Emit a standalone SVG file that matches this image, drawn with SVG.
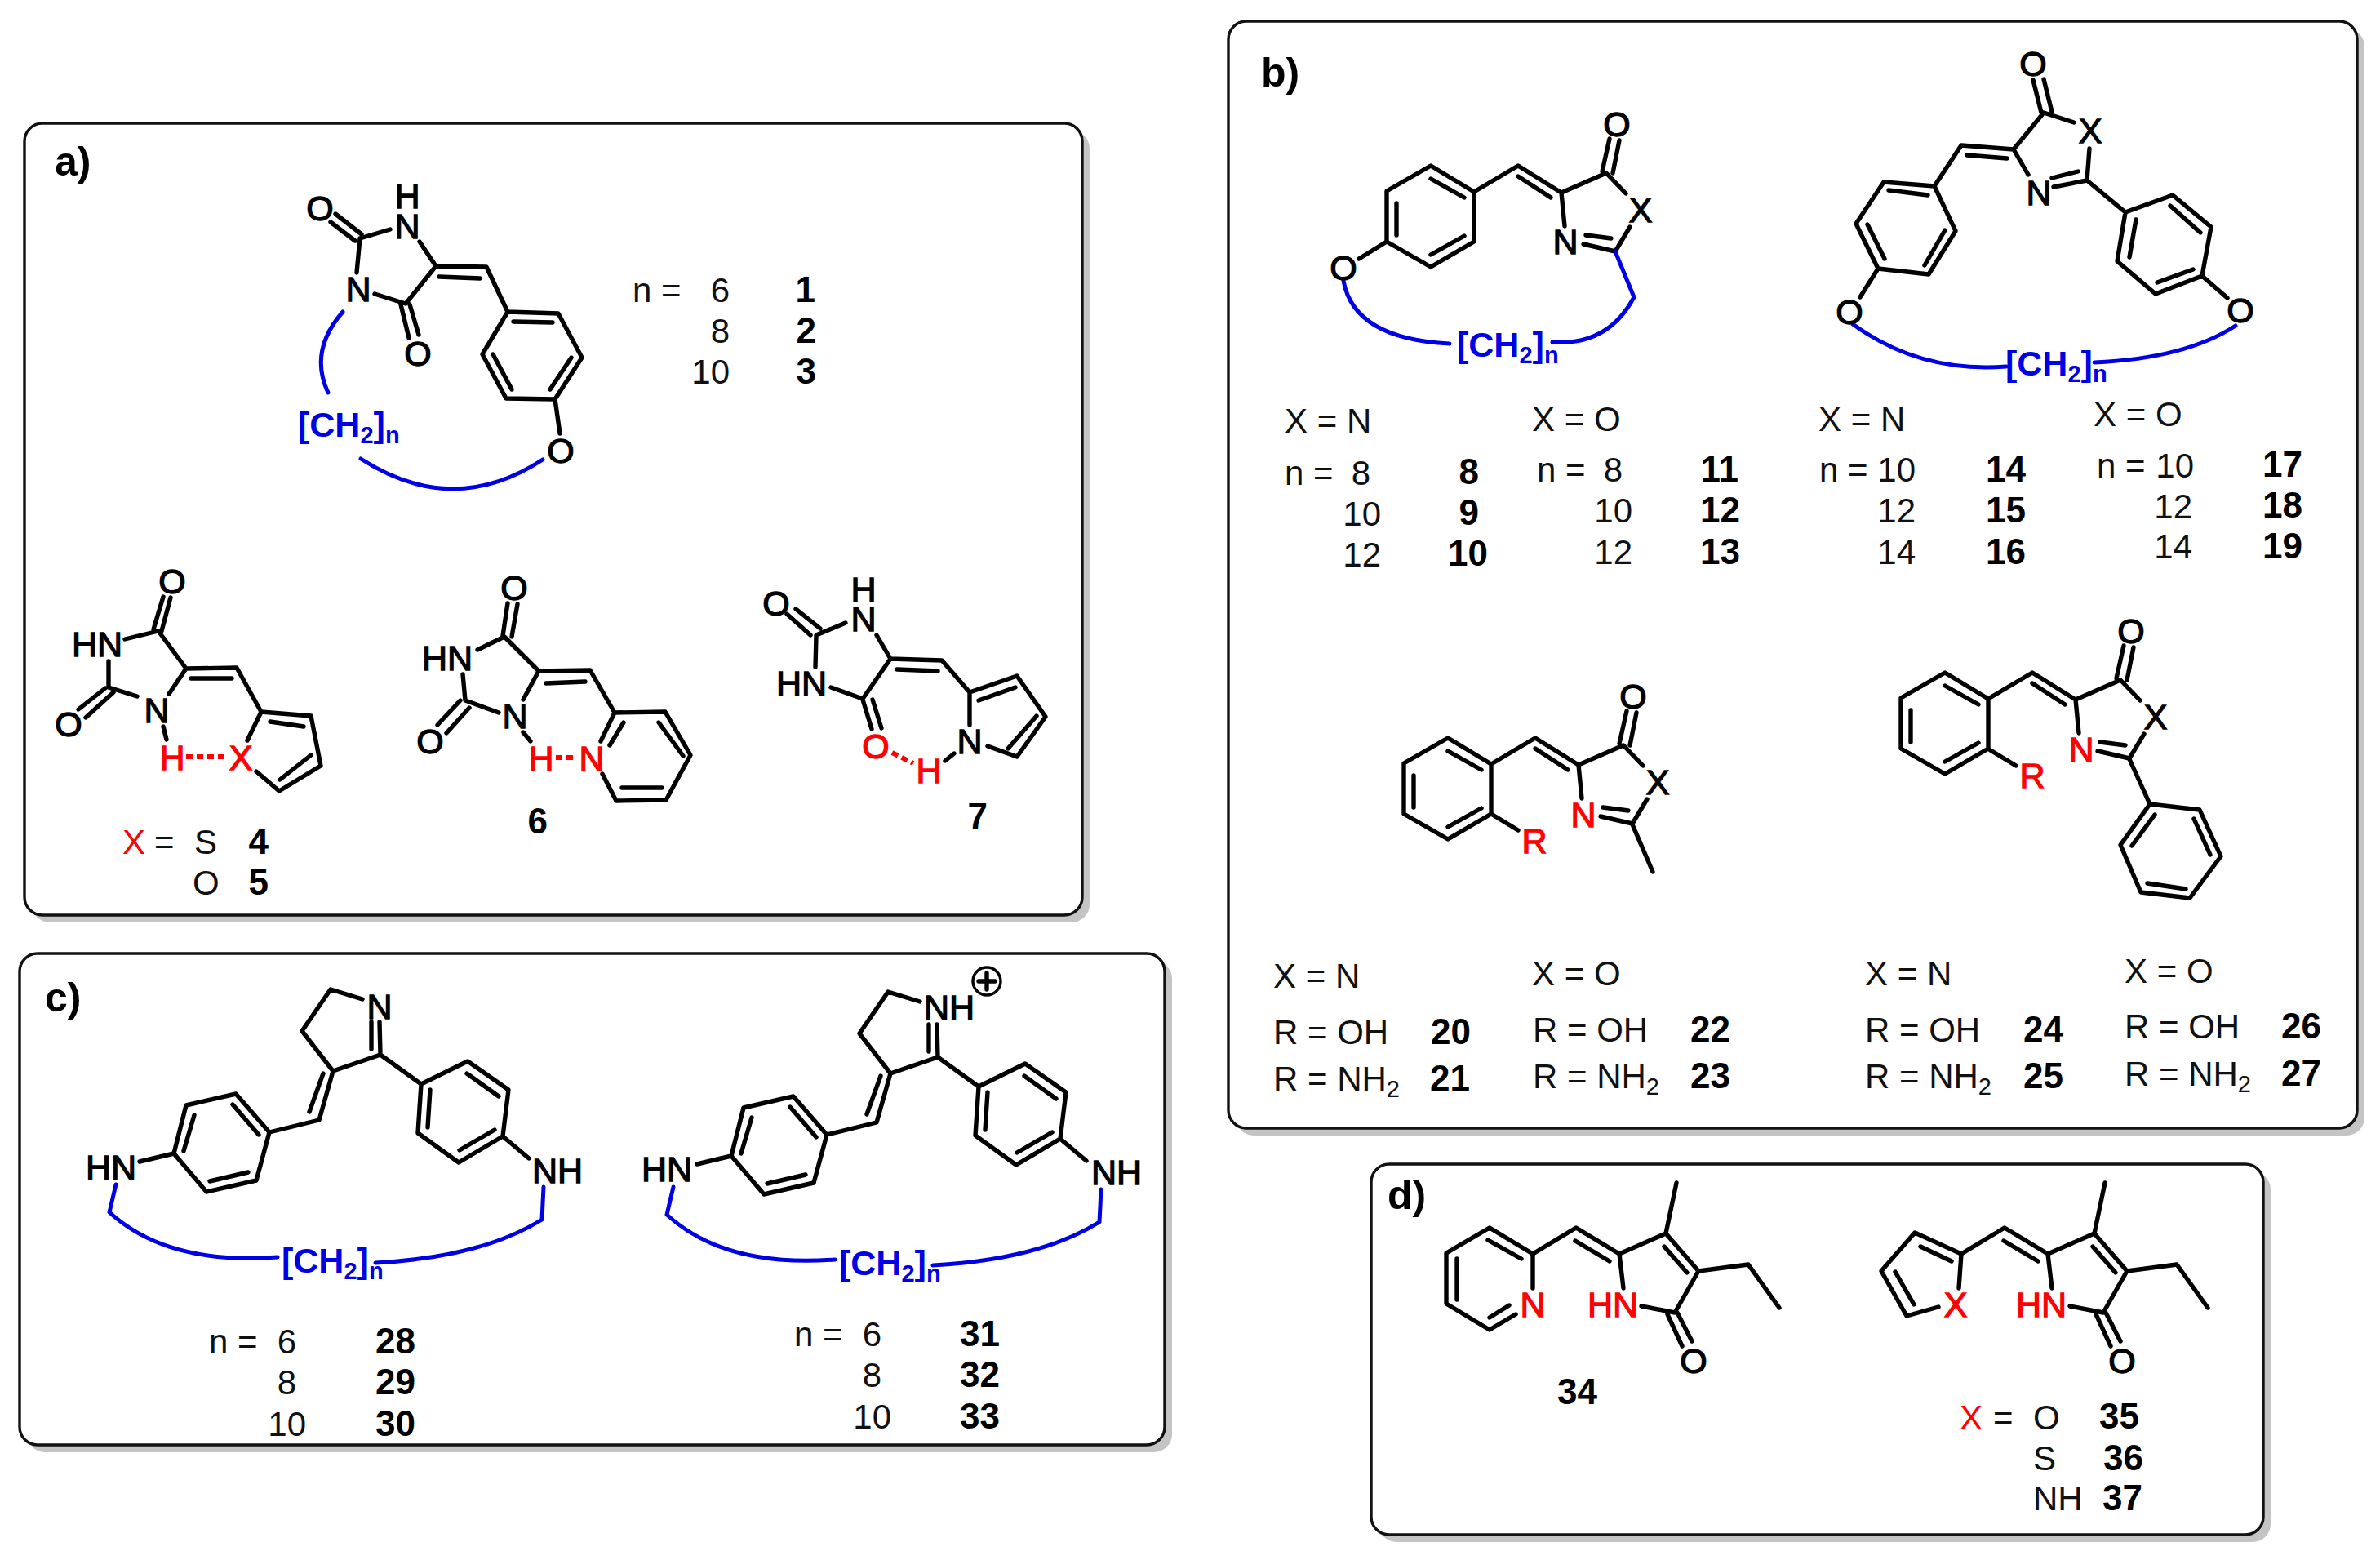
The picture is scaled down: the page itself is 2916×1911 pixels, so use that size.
<svg xmlns="http://www.w3.org/2000/svg" xmlns:xlink="http://www.w3.org/1999/xlink" width="2916" height="1911" viewBox="0 0 2916 1911">
<style>
text{font-family:"Liberation Sans",Arial,sans-serif;fill:#111}
.box{fill:#fff;stroke:#111;stroke-width:3.4}
.sh{fill:#c4c4c4}
.b{fill:none;stroke:#000;stroke-width:5.4;stroke-linecap:round;stroke-linejoin:round}
.bl{fill:none;stroke:#0000e6;stroke-width:5;stroke-linecap:round;stroke-linejoin:round}
.rd{fill:none;stroke:#f00;stroke-width:6;stroke-dasharray:8 5}
.a{font-size:43px;text-anchor:middle;fill:#000;stroke:#000;stroke-width:1.3}
.ar{fill:#f00;stroke:#f00}
.t{font-size:42px}
.c{font-size:44px;font-weight:700;text-anchor:end;fill:#000}
.e{text-anchor:end}
.l{font-size:50px;font-weight:700;fill:#000}
.ch{font-size:43px;font-weight:700;fill:#0000e6}
.s{font-size:29px}
.x{fill:#f00}
</style>
<defs>
<path id="core" class="b" d="M1963 210L1972 170M1976 212L1984 172M1992 237L1968 212L1913 236L1860 203L1806 235L1753 203L1699 234V296L1753 327L1806 296V235M1997 278L1979 308L1940 299M1974 292L1943 288M1917 277L1913 236M1900 242L1860 216M1794 242L1753 219M1711 249V288M1753 312L1794 289"/>
<path id="pyr" class="b" d="M1878 1536L1931 1504L1984 1536L2041 1511L2054 1449M2041 1511L2081 1557L2052 1608L2011 1600M1930 1520L1972 1545M2039 1527L2067 1559M1984 1536L1989 1578M2043 1610L2061 1649M2055 1608L2073 1643M2081 1557L2142 1549L2180 1602"/>
<path id="cm" class="b" d="M444 1224L405 1212L370 1263L408 1312L466 1292L516 1328L573 1300L623 1335L616 1392L562 1424L512 1388L516 1328M455 1252V1285M465 1252L466 1292M408 1312L391 1372L330 1387L289 1340L228 1354L213 1413L253 1460L314 1446L330 1387M396 1315L379 1362M317 1390L285 1353M238 1366L225 1410M257 1447L304 1436M527 1335L524 1381M572 1315L611 1343M606 1384L563 1409M171 1423L213 1413M616 1392L648 1419"/>
<path id="cb" class="bl" d="M142 1451L134 1485Q205 1550 340 1540M460 1547Q590 1540 664 1494L666 1454"/>
</defs>

<g id="panel-a">
<rect class="sh" x="39" y="160" width="1296" height="970" rx="22"/>
<rect class="box" x="30" y="151" width="1296" height="970" rx="22"/>
<text class="l" x="67" y="215">a)</text>
<g id="mol-1">
<path class="b" d="M411 262L443 287M405 272L435 295M441 292L478 281M441 292L437 334M514 296L534 326L596 327L622 382L684 384L713 438L680 489L620 488L591 434L622 382M538 339L588 341M534 326L497 372L459 360M491 373L501 414M502 373L513 410M629 394L677 395M700 438L674 477M627 477L604 434M680 489L686 531"/>
<path class="bl" d="M420 382Q378 430 402 481M442 562Q555 635 665 563"/>
<text class="a" x="392" y="270">O</text><text class="a"><tspan x="499" y="255">H</tspan><tspan x="499" y="292">N</tspan></text><text class="a" x="439" y="369">N</text><text class="a" x="512" y="448">O</text><text class="a" x="687" y="567">O</text>
<text class="ch" x="365" y="535">[CH<tspan class="s" dy="8">2</tspan><tspan dy="-8">]</tspan><tspan class="s" dy="8">n</tspan></text>
<text class="t" x="775" y="370">n =</text><text class="t e" x="894" y="370">6</text><text class="t e" x="894" y="420">8</text><text class="t e" x="894" y="470">10</text>
<text class="c" x="999" y="370">1</text><text class="c" x="1000" y="420">2</text><text class="c" x="1000" y="470">3</text>
</g>
<g id="mol-4-5">
<path class="b" d="M188 771L200 731M198 773L209 732M153 783L194 773L228 819L290 818L320 872L381 877L393 938L342 969L314 945M133 810V842L168 853M129 843L96 869M139 848L105 879M228 819L207 850M234 831H284M200 890L204 906M320 872L303 907M331 884L372 890M381 925L343 955"/>
<path class="rd" d="M228 927H276"/>
<text class="a" x="211" y="727">O</text><text class="a" x="119" y="804">HN</text><text class="a" x="84" y="902">O</text><text class="a" x="192" y="885">N</text><text class="a ar" x="211" y="943">H</text><text class="a ar" x="295" y="943">X</text>
<text class="t x" x="150" y="1046">X</text><text class="t" x="189" y="1046">=</text><text class="t" x="238" y="1046">S</text><text class="c" x="329" y="1046">4</text>
<text class="t" x="236" y="1096">O</text><text class="c" x="329" y="1096">5</text>
</g>
<g id="mol-6">
<path class="b" d="M616 779L622 739M627 780L634 740M585 796L618 780L660 822L723 821L753 873L815 872L846 925L816 980L755 981L738 948M567 826L570 858L611 873M564 858L536 888M575 867L547 898M669 837L717 835M660 822L641 857M807 885L837 926M811 965H762M736 908L753 873M747 913L764 885M641 897L650 908"/>
<path class="rd" d="M681 928H706"/>
<text class="a" x="630" y="735">O</text><text class="a" x="548" y="821">HN</text><text class="a" x="527" y="923">O</text><text class="a" x="631" y="892">N</text><text class="a ar" x="663" y="944">H</text><text class="a ar" x="725" y="944">N</text>
<text class="c" x="671" y="1021">6</text>
</g>
<g id="mol-7">
<path class="b" d="M975 746L1005 770M964 752L993 778M1036 763L1000 778L999 817M1074 778L1091 807L1154 809L1188 848L1246 828L1281 878L1246 927L1210 914M1018 842L1057 856L1091 807M1099 820L1149 822M1069 857L1080 892M1057 857L1068 893M1199 858L1244 842M1270 877L1235 917M1188 848V888M1158 932L1169 923"/>
<path class="rd" d="M1093 922L1119 935"/>
<text class="a" x="951" y="754">O</text><text class="a"><tspan x="1058" y="737">H</tspan><tspan x="1058" y="773">N</tspan></text><text class="a" x="982" y="852">HN</text><text class="a ar" x="1073" y="929">O</text><text class="a ar" x="1138" y="959">H</text><text class="a" x="1188" y="923">N</text>
<text class="c" x="1210" y="1015">7</text>
</g>
</g>

<g id="panel-b">
<rect class="sh" x="1514" y="35" width="1383" height="1356" rx="22"/>
<rect class="box" x="1505" y="26" width="1383" height="1356" rx="22"/>
<text class="l" x="1545" y="106">b)</text>
<g id="mol-8-13">
<use href="#core" xlink:href="#core"/>
<path class="b" d="M1699 296L1665 317"/>
<path class="bl" d="M1646 344Q1659 415 1776 421M1902 419Q1970 424 2002 364L1979 308"/>
<text class="a" x="1981" y="167">O</text><text class="a" x="2010" y="272">X</text><text class="a" x="1918" y="311">N</text><text class="a" x="1646" y="343">O</text>
<text class="ch" x="1785" y="437">[CH<tspan class="s" dy="8">2</tspan><tspan dy="-8">]</tspan><tspan class="s" dy="8">n</tspan></text>
<text class="t" x="1574" y="530">X = N</text><text class="t" x="1574" y="594">n =</text><text class="t e" x="1679" y="594">8</text><text class="t e" x="1692" y="644">10</text><text class="t e" x="1692" y="694">12</text>
<text class="c" x="1812" y="593">8</text><text class="c" x="1812" y="643">9</text><text class="c" x="1823" y="693">10</text>
<text class="t" x="1877" y="528">X = O</text><text class="t" x="1883" y="590">n =</text><text class="t e" x="1988" y="590">8</text><text class="t e" x="2000" y="640">10</text><text class="t e" x="2000" y="691">12</text>
<text class="c" x="2130" y="590">11</text><text class="c" x="2132" y="640">12</text><text class="c" x="2132" y="691">13</text>
</g>
<g id="mol-14-19">
<path class="b" d="M2491 98L2501 138M2504 97L2514 137M2541 150L2504 138L2467 183L2403 178L2370 228L2308 223L2274 274L2301 329L2363 336L2396 283L2370 228M2560 182L2557 221L2516 229M2546 210L2514 218M2485 214L2467 183M2459 194L2410 190M2362 239L2314 233M2288 275L2309 317M2358 325L2383 282M2301 329L2279 364M2557 221L2604 260L2662 239L2709 278L2698 338L2641 360L2594 320L2604 260M2617 269L2609 315M2659 252L2696 285M2687 330L2643 346M2698 338L2729 365"/>
<path class="bl" d="M2270 397Q2352 457 2458 449M2566 444Q2678 439 2739 399"/>
<text class="a" x="2491" y="93">O</text><text class="a" x="2561" y="175">X</text><text class="a" x="2498" y="251">N</text><text class="a" x="2266" y="397">O</text><text class="a" x="2745" y="395">O</text>
<text class="ch" x="2457" y="460">[CH<tspan class="s" dy="8">2</tspan><tspan dy="-8">]</tspan><tspan class="s" dy="8">n</tspan></text>
<text class="t" x="2228" y="528">X = N</text><text class="t" x="2229" y="590">n =</text><text class="t e" x="2347" y="590">10</text><text class="t e" x="2347" y="640">12</text><text class="t e" x="2347" y="691">14</text>
<text class="c" x="2482" y="590">14</text><text class="c" x="2482" y="640">15</text><text class="c" x="2482" y="691">16</text>
<text class="t" x="2565" y="522">X = O</text><text class="t" x="2569" y="585">n =</text><text class="t e" x="2688" y="585">10</text><text class="t e" x="2686" y="635">12</text><text class="t e" x="2686" y="684">14</text>
<text class="c" x="2821" y="584">17</text><text class="c" x="2821" y="634">18</text><text class="c" x="2821" y="684">19</text>
</g>
<g id="mol-20-23">
<use href="#core" xlink:href="#core" transform="translate(21 701)"/>
<path class="b" d="M1827 997L1860 1017M2000 1010L2025 1068"/>
<text class="a" x="2001" y="868">O</text><text class="a" x="2031" y="973">X</text><text class="a ar" x="1940" y="1013">N</text><text class="a ar" x="1880" y="1045">R</text>
<text class="t" x="1560" y="1210">X = N</text><text class="t" x="1560" y="1279">R = OH</text><text class="t" x="1560" y="1336">R = NH<tspan class="s" dy="8">2</tspan></text>
<text class="c" x="1802" y="1279">20</text><text class="c" x="1801" y="1336">21</text>
<text class="t" x="1877" y="1207">X = O</text><text class="t" x="1878" y="1276">R = OH</text><text class="t" x="1878" y="1333">R = NH<tspan class="s" dy="8">2</tspan></text>
<text class="c" x="2120" y="1276">22</text><text class="c" x="2120" y="1333">23</text>
</g>
<g id="mol-24-27">
<use href="#core" xlink:href="#core" transform="translate(630 621)"/>
<path class="b" d="M2437 918L2470 938M2609 930L2634 985L2695 992L2721 1049L2683 1100L2623 1093L2598 1035L2634 985M2640 998L2612 1036M2688 1003L2708 1047M2678 1089L2631 1082"/>
<text class="a" x="2611" y="788">O</text><text class="a" x="2641" y="893">X</text><text class="a ar" x="2550" y="933">N</text><text class="a ar" x="2490" y="965">R</text>
<text class="t" x="2285" y="1207">X = N</text><text class="t" x="2285" y="1276">R = OH</text><text class="t" x="2285" y="1333">R = NH<tspan class="s" dy="8">2</tspan></text>
<text class="c" x="2528" y="1276">24</text><text class="c" x="2528" y="1333">25</text>
<text class="t" x="2603" y="1204">X = O</text><text class="t" x="2603" y="1272">R = OH</text><text class="t" x="2603" y="1330">R = NH<tspan class="s" dy="8">2</tspan></text>
<text class="c" x="2844" y="1272">26</text><text class="c" x="2844" y="1330">27</text>
</g>
</g>

<g id="panel-c">
<rect class="sh" x="33" y="1177" width="1403" height="602" rx="22"/>
<rect class="box" x="24" y="1168" width="1403" height="602" rx="22"/>
<text class="l" x="55" y="1239">c)</text>
<g id="mol-28-30">
<use href="#cm" xlink:href="#cm"/><use href="#cb" xlink:href="#cb"/>
<text class="a" x="465" y="1248">N</text><text class="a" x="136" y="1445">HN</text><text class="a" x="683" y="1449">NH</text>
<text class="ch" x="345" y="1559">[CH<tspan class="s" dy="8">2</tspan><tspan dy="-8">]</tspan><tspan class="s" dy="8">n</tspan></text>
<text class="t" x="256" y="1658">n =</text><text class="t e" x="363" y="1658">6</text><text class="t e" x="363" y="1708">8</text><text class="t e" x="375" y="1759">10</text>
<text class="c" x="509" y="1658">28</text><text class="c" x="509" y="1708">29</text><text class="c" x="509" y="1759">30</text>
</g>
<g id="mol-31-33">
<use href="#cm" xlink:href="#cm" transform="translate(683 3)"/><use href="#cb" xlink:href="#cb" transform="translate(683 3)"/>
<text class="a" x="1163" y="1249">NH</text><text class="a" x="817" y="1447">HN</text><text class="a" x="1368" y="1451">NH</text>
<circle cx="1209" cy="1202" r="17" fill="none" stroke="#000" stroke-width="3.4"/><path class="b" d="M1199 1202H1219M1209 1192V1212"/>
<text class="ch" x="1028" y="1562">[CH<tspan class="s" dy="8">2</tspan><tspan dy="-8">]</tspan><tspan class="s" dy="8">n</tspan></text>
<text class="t" x="973" y="1649">n =</text><text class="t e" x="1080" y="1649">6</text><text class="t e" x="1080" y="1699">8</text><text class="t e" x="1092" y="1750">10</text>
<text class="c" x="1225" y="1649">31</text><text class="c" x="1225" y="1699">32</text><text class="c" x="1225" y="1750">33</text>
</g>
</g>

<g id="panel-d">
<rect class="sh" x="1689" y="1435" width="1093" height="454" rx="22"/>
<rect class="box" x="1680" y="1426" width="1093" height="454" rx="22"/>
<text class="l" x="1700" y="1481">d)</text>
<g id="mol-34">
<use href="#pyr" xlink:href="#pyr"/>
<path class="b" d="M1878 1578V1536L1825 1504L1772 1535V1597L1825 1629L1857 1610M1823 1519L1864 1542M1785 1542V1592M1825 1614L1849 1599"/>
<text class="a ar" x="1878" y="1613">N</text><text class="a ar" x="1976" y="1613">HN</text><text class="a" x="2075" y="1682">O</text>
<text class="c" x="1957" y="1720">34</text>
</g>
<g id="mol-35-37">
<use href="#pyr" xlink:href="#pyr" transform="translate(525 0)"/>
<path class="b" d="M2400 1578L2403 1536L2346 1510L2305 1557L2336 1612L2375 1601M2391 1545L2353 1527M2322 1558L2345 1598"/>
<text class="a ar" x="2396" y="1613">X</text><text class="a ar" x="2501" y="1613">HN</text><text class="a" x="2600" y="1682">O</text>
<text class="t x" x="2401" y="1751">X</text><text class="t" x="2442" y="1751">=</text><text class="t" x="2491" y="1751">O</text><text class="c" x="2621" y="1750">35</text>
<text class="t" x="2491" y="1801">S</text><text class="c" x="2626" y="1801">36</text>
<text class="t" x="2491" y="1850">NH</text><text class="c" x="2625" y="1850">37</text>
</g>
</g>
</svg>
